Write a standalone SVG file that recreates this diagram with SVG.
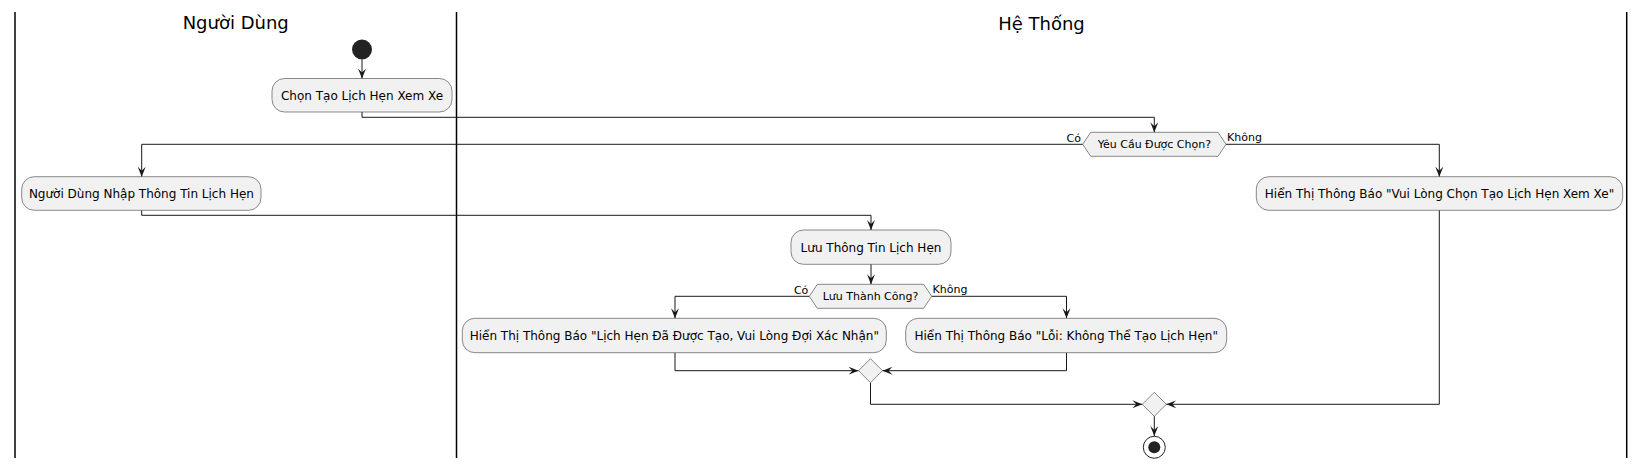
<svg xmlns="http://www.w3.org/2000/svg" width="1645" height="469" viewBox="0 0 1645 469">
<defs>
<style>
.lane{stroke:#000;stroke-width:1.5;fill:none}
.title{font-family:"DejaVu Sans",sans-serif;font-size:18px;fill:#000;text-anchor:middle}
.box{fill:#F1F1F1;stroke:#181818;stroke-width:0.5}
.t{font-family:"DejaVu Sans",sans-serif;font-size:12px;fill:#000;text-anchor:middle}
.dt{font-family:"DejaVu Sans",sans-serif;font-size:11px;fill:#000;text-anchor:middle}
.lbl{font-family:"DejaVu Sans",sans-serif;font-size:11px;fill:#000}
.c{stroke:#181818;stroke-width:1;fill:none;marker-end:url(#ah)}
</style>
<marker id="ah" markerUnits="userSpaceOnUse" markerWidth="12" markerHeight="10" refX="10" refY="4" orient="auto" viewBox="0 0 12 10">
<path d="M0,0 L10,4 L0,8 L4,4 Z" fill="#181818"/>
</marker>
</defs>
<g id="lanes">
<line class="lane" x1="15" y1="12" x2="15" y2="458"/>
<line class="lane" x1="456.5" y1="12" x2="456.5" y2="458"/>
<line class="lane" x1="1626.7" y1="12" x2="1626.7" y2="458"/>
<text class="title" x="235.7" y="29">Người Dùng</text>
<text class="title" x="1041.5" y="29.5">Hệ Thống</text>
</g>
<g id="connectors">
<path class="c" d="M362,59.5 L362,78.5"/>
<path class="c" d="M362,112 L362,117.3 L1154.3,117.3 L1154.3,132.3"/>
<path class="c" d="M1082.7,144.3 L141.7,144.3 L141.7,176.7"/>
<path class="c" d="M1226,144.3 L1439.3,144.3 L1439.3,176.7"/>
<path class="c" d="M141.7,210.3 L141.7,215.3 L871,215.3 L871,230"/>
<path class="c" d="M871,264.3 L871,284.3"/>
<path class="c" d="M809.3,296.3 L675,296.3 L675,318.3"/>
<path class="c" d="M931.7,296.3 L1066.5,296.3 L1066.5,318.3"/>
<path class="c" d="M675,352.7 L675,370.7 L858.5,370.7"/>
<path class="c" d="M1066.5,352.7 L1066.5,370.7 L882.5,370.7"/>
<path class="c" d="M870.5,382.7 L870.5,404.3 L1142.3,404.3"/>
<path class="c" d="M1439.3,210.3 L1439.3,404.3 L1166.3,404.3"/>
<path class="c" d="M1154.3,416.3 L1154.3,436"/>
<text class="lbl" x="1081" y="141.5" text-anchor="end">Có</text>
<text class="lbl" x="1227" y="141">Không</text>
<text class="lbl" x="808.3" y="293.5" text-anchor="end">Có</text>
<text class="lbl" x="932.5" y="293">Không</text>
</g>
<g id="start"><circle cx="362" cy="49.5" r="10" fill="#222222"/></g>
<g id="chon"><rect class="box" x="272" y="78.5" width="180" height="33.5" rx="12.5"/><text class="t" x="362" y="100">Chọn Tạo Lịch Hẹn Xem Xe</text></g>
<g id="d1"><polygon class="box" points="1082.7,144.3 1090.7,132.3 1218,132.3 1226,144.3 1218,156.3 1090.7,156.3"/><text class="dt" x="1154.4" y="148">Yêu Cầu Được Chọn?</text></g>
<g id="nhap"><rect class="box" x="21.7" y="176.7" width="239.3" height="33.6" rx="12.5"/><text class="t" x="141.4" y="198">Người Dùng Nhập Thông Tin Lịch Hẹn</text></g>
<g id="vui"><rect class="box" x="1256.3" y="176.7" width="366.4" height="33.6" rx="12.5"/><text class="t" x="1439.5" y="198">Hiển Thị Thông Báo "Vui Lòng Chọn Tạo Lịch Hẹn Xem Xe"</text></g>
<g id="luu"><rect class="box" x="791" y="230" width="160" height="34.3" rx="12.5"/><text class="t" x="871" y="251.5">Lưu Thông Tin Lịch Hẹn</text></g>
<g id="d2"><polygon class="box" points="809.3,296.3 817.3,284.3 923.7,284.3 931.7,296.3 923.7,308.3 817.3,308.3"/><text class="dt" x="870.5" y="300">Lưu Thành Công?</text></g>
<g id="ok"><rect class="box" x="462.3" y="318.3" width="424" height="34.4" rx="12.5"/><text class="t" x="674.3" y="340">Hiển Thị Thông Báo "Lịch Hẹn Đã Được Tạo, Vui Lòng Đợi Xác Nhận"</text></g>
<g id="loi"><rect class="box" x="905.7" y="318.3" width="321" height="34.4" rx="12.5"/><text class="t" x="1066.2" y="340">Hiển Thị Thông Báo "Lỗi: Không Thể Tạo Lịch Hẹn"</text></g>
<g id="m1"><polygon class="box" points="858.5,370.7 870.5,358.7 882.5,370.7 870.5,382.7"/></g>
<g id="m2"><polygon class="box" points="1142.3,404.3 1154.3,392.3 1166.3,404.3 1154.3,416.3"/></g>
<g id="end"><circle cx="1154.3" cy="447.3" r="11" fill="none" stroke="#222222" stroke-width="1"/><circle cx="1154.3" cy="447.3" r="6" fill="#222222"/></g>
</svg>
